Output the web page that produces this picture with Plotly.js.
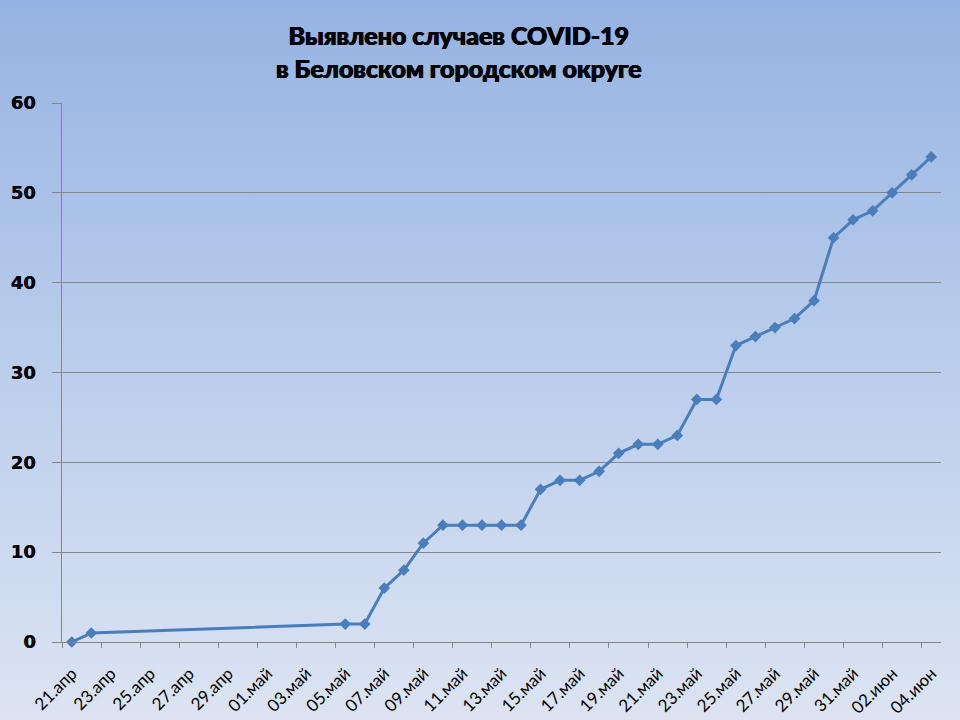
<!DOCTYPE html>
<html><head><meta charset="utf-8">
<script src="https://cdn.plot.ly/plotly-3.0.1.min.js"></script>
<style>
html,body{margin:0;padding:0;}
#chart{width:960px;height:720px;background:linear-gradient(to bottom,#95b3e2 0%,#b7cbeb 45%,#dce4f2 100%);}
</style></head><body>
<div id="chart"></div>
<script>
const dates = ['2020-04-21','2020-04-22','2020-05-05','2020-05-06','2020-05-07','2020-05-08','2020-05-09','2020-05-10','2020-05-11','2020-05-12','2020-05-13','2020-05-14','2020-05-15','2020-05-16','2020-05-17','2020-05-18','2020-05-19','2020-05-20','2020-05-21','2020-05-22','2020-05-23','2020-05-24','2020-05-25','2020-05-26','2020-05-27','2020-05-28','2020-05-29','2020-05-30','2020-05-31','2020-06-01','2020-06-02','2020-06-03','2020-06-04'];
const cases = [0,1,2,2,6,8,11,13,13,13,13,13,17,18,18,19,21,22,22,23,27,27,33,34,35,36,38,45,47,48,50,52,54];
const tickDates = ['2020-04-21','2020-04-23','2020-04-25','2020-04-27','2020-04-29','2020-05-01','2020-05-03','2020-05-05','2020-05-07','2020-05-09','2020-05-11','2020-05-13','2020-05-15','2020-05-17','2020-05-19','2020-05-21','2020-05-23','2020-05-25','2020-05-27','2020-05-29','2020-05-31','2020-06-02','2020-06-04'];
const tickLabels = ['21.апр','23.апр','25.апр','27.апр','29.апр','01.май','03.май','05.май','07.май','09.май','11.май','13.май','15.май','17.май','19.май','21.май','23.май','25.май','27.май','29.май','31.май','02.июн','04.июн'];
const yTicks = [0,10,20,30,40,50,60];
const titleText = 'Выявлено случаев COVID-19<br>в Беловском городском округе';

// tick marks sit at the start of each labelled day cell; labels are shifted to the cell centre
const tickMarks = tickDates.map(d => { const t = new Date(d + 'T00:00:00Z'); t.setUTCHours(t.getUTCHours() - 12); return t.toISOString().slice(0,19).replace('T',' '); });
const xRange = ['2020-04-20 12:00','2020-06-04 12:00'];

const trace = {
  x: dates, y: cases, type: 'scatter', mode: 'lines+markers',
  line: {color: '#4a7ebb', width: 3},
  marker: {symbol: 'diamond', size: 9, color: '#4a7ebb'},
  hoverinfo: 'x+y', cliponaxis: false
};

const layout = {
  width: 960, height: 720,
  paper_bgcolor: 'rgba(0,0,0,0)', plot_bgcolor: 'rgba(0,0,0,0)',
  margin: {l: 62, r: 19, t: 103, b: 78},
  showlegend: false,
  title: {text: titleText, x: 0.478, xanchor: 'center', y: 0.937, yanchor: 'top',
          font: {family: 'Lato, "Open Sans", sans-serif', size: 25, color: '#000', weight: 900,
                 shadow: '0.5px 0 0 #000, -0.5px 0 0 #000'}},
  xaxis: {
    type: 'date', range: xRange,
    tickvals: tickMarks, ticktext: tickLabels, tickangle: -45,
    ticklabelshift: 10, ticklabelstandoff: 9,
    ticks: 'outside', ticklen: 5, tickcolor: '#868686', tickwidth: 1,
    showgrid: false, zeroline: false,
    showline: true, linecolor: '#868686', linewidth: 1,
    tickfont: {family: 'Lato, "Open Sans", sans-serif', size: 17, color: '#000'}
  },
  yaxis: {
    range: [0, 60], tickvals: yTicks, ticktext: yTicks.map(v => String(v) + '\u00a0\u00a0'),
    showgrid: true, gridcolor: '#868686', gridwidth: 1,
    zeroline: false, showline: true, linecolor: '#868686', linewidth: 1,
    ticks: 'outside', ticklen: 9, tickcolor: '#868686', tickwidth: 1,
    tickfont: {family: '"DejaVu Sans", sans-serif', size: 18, color: '#000', weight: 'bold',
               shadow: '0.3px 0 0 #000'}
  }
};

Plotly.newPlot('chart', [trace], layout, {displayModeBar: false, staticPlot: true});
</script>
</body></html>
